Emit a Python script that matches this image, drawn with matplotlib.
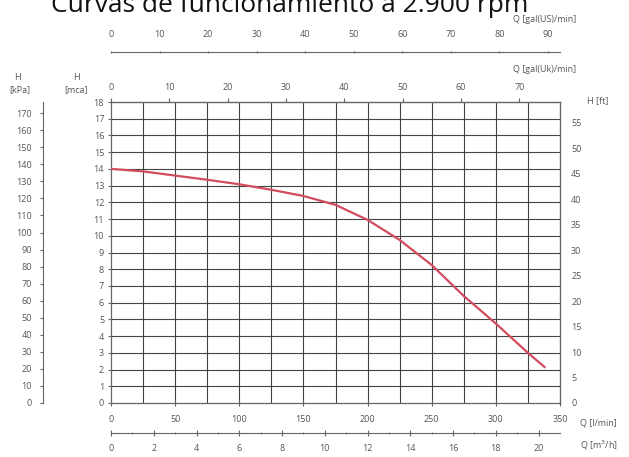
import matplotlib.pyplot as plt

# pump curve (Q in l/min, H in m)
q_lmin = [0, 25, 50, 75, 100, 125, 150, 175, 200, 225, 250, 275, 300, 325, 338]
h_mca = [14.0, 13.85, 13.6, 13.35, 13.08, 12.75, 12.38, 11.85, 10.95, 9.75, 8.25, 6.4, 4.75, 3.0, 2.15]

lmin_ticks = [0, 50, 100, 150, 200, 250, 300, 350]
m3h_ticks = list(range(0, 21, 2))
usgal_ticks = list(range(0, 91, 10))
ukgal_ticks = list(range(0, 71, 10))
mca_ticks = list(range(0, 19))
kpa_ticks = list(range(0, 171, 10))
ft_ticks = list(range(0, 56, 5))

TXT = "#555555"
LINE = "#666666"
FS = 6.5

plt.rcParams['font.family'] = ['Open Sans', 'DejaVu Sans']

W, H = 629, 457
fig = plt.figure(figsize=(W / 100, H / 100), dpi=100)

x0, x1, y0, y1 = 111, 560, 102, 403
ax = fig.add_axes([x0 / W, 1 - y1 / H, (x1 - x0) / W, (y1 - y0) / H])
ax.set_xlim(0, 350)
ax.set_ylim(0, 18)

# grid
for gx in range(25, 350, 25):
    ax.axvline(gx, color="#444444", lw=0.8, zorder=1)
for gy in range(1, 18):
    ax.axhline(gy, color="#444444", lw=0.8, zorder=1)

ax.plot(q_lmin, h_mca, color="#d24b5e", lw=1.6, zorder=3)

for s in ax.spines.values():
    s.set_color(LINE)
    s.set_linewidth(0.9)

ax.set_xticks(lmin_ticks)
ax.set_yticks(mca_ticks)
ax.tick_params(axis='x', direction='inout', length=4, colors=LINE, labelcolor=TXT,
               labelsize=FS, pad=7)
ax.tick_params(axis='y', direction='out', length=2, colors=LINE, labelcolor=TXT,
               labelsize=FS, pad=3)

# top: UK gallons per minute
uk = ax.secondary_xaxis('top', functions=(lambda x: x / 4.546, lambda x: x * 4.546))
uk.set_xticks(ukgal_ticks)
uk.tick_params(direction='out', length=3, colors=LINE, labelcolor=TXT, labelsize=FS, pad=4)

# upper separate axis: US gallons per minute
us = ax.secondary_xaxis((y1 - 52) / (y1 - y0), functions=(lambda x: x / 3.785, lambda x: x * 3.785))
us.set_xticks(usgal_ticks)
us.set_xticks(range(0, 91, 20), minor=True)
us.tick_params(which='major', direction='inout', length=2, colors=LINE, labelcolor=TXT,
               labelsize=FS, pad=8)
us.tick_params(which='minor', direction='inout', length=5, colors=LINE)
us.spines['top'].set_color(LINE)

# lower separate axis: m3/h
m3 = ax.secondary_xaxis(-(433 - y1) / (y1 - y0), functions=(lambda x: x / 16.667, lambda x: x * 16.667))
m3.set_xticks(m3h_ticks)
m3.set_xticks(range(0, 21), minor=True)
m3.tick_params(which='major', direction='inout', length=4, colors=LINE, labelcolor=TXT,
               labelsize=FS, pad=6)
m3.tick_params(which='minor', direction='inout', length=2, colors=LINE)
m3.spines['bottom'].set_color(LINE)

# left separate axis: kPa
kpa = ax.secondary_yaxis((43 - x0) / (x1 - x0), functions=(lambda y: y * 9.81, lambda y: y / 9.81))
kpa.set_yticks(kpa_ticks)
kpa.set_yticks(range(0, 171, 20), minor=True)
kpa.tick_params(which='major', direction='out', length=2, colors=LINE, labelcolor=TXT,
                labelsize=FS, pad=6)
kpa.tick_params(which='minor', direction='out', length=4, colors=LINE)
kpa.spines['left'].set_color(LINE)

# right: feet
ft = ax.secondary_yaxis('right', functions=(lambda y: y * 3.281, lambda y: y / 3.281))
ft.set_yticks(ft_ticks)
ft.set_yticks(range(0, 56, 10), minor=True)
ft.tick_params(which='major', direction='out', length=0, colors=LINE, labelcolor=TXT,
               labelsize=FS, pad=8)
ft.tick_params(which='minor', direction='out', length=4, colors=LINE)
ft.spines['right'].set_color(LINE)

def label(px, py, s, ha='left'):
    fig.text(px / W, 1 - py / H, s, ha=ha, va='center', fontsize=FS, color=TXT)

label(17, 77, "H", ha='center')
label(20, 90, "[kPa]", ha='center')
label(76, 77, "H", ha='center')
label(76, 90, "[mca]", ha='center')
label(587, 101, "H [ft]")
label(513, 19, "Q [gal(US)/min]")
label(513, 69, "Q [gal(Uk)/min]")
label(580, 423, "Q [l/min]")
label(580, 445, "Q [m$^3$/h]")

fig.text(290 / W, 1 - 12 / H, "Curvas de funcionamiento a 2.900 rpm", ha='center',
         va='baseline', fontsize=19, color="#111111")

fig.savefig("out.png", dpi=100)
